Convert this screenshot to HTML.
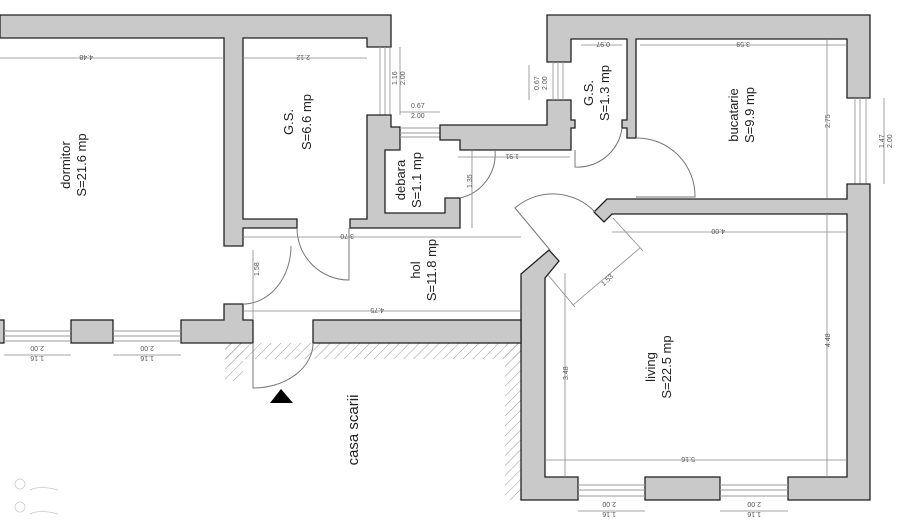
<!DOCTYPE html>
<html><head><meta charset="utf-8"><style>
html,body{margin:0;padding:0;background:#fff;width:900px;height:528px;overflow:hidden}
svg{display:block;font-family:"Liberation Sans",sans-serif}
.w{fill:#c9c9c9;stroke:#222;stroke-width:1.3}
.d{stroke:#888;stroke-width:0.8;fill:none}
.a{stroke:#777;stroke-width:1;fill:none}
.h{stroke:#999;stroke-width:0.9}
.t{font-size:13px;fill:#222}
.s{font-size:7px;fill:#555}
</style></head><body>
<svg width="900" height="528" viewBox="0 0 900 528">
<defs><pattern id="hat" width="7" height="7" patternUnits="userSpaceOnUse" patternTransform="rotate(45)"><line x1="0" y1="0" x2="0" y2="7" stroke="#999" stroke-width="1"/></pattern></defs>
<rect x="225" y="343" width="296" height="16" fill="url(#hat)"/>
<rect x="225" y="343" width="18" height="38" fill="url(#hat)"/>
<rect x="505" y="343" width="16" height="157" fill="url(#hat)"/>
<path class="w" d="M0 15 H391 V47 H367 V38 H243 V219 H297 V228 H243 V246 H224 V38 H0 Z"/>
<line class="h" x1="380" y1="47" x2="380" y2="115"/><line class="h" x1="385" y1="47" x2="385" y2="115"/><line class="h" x1="390" y1="47" x2="390" y2="115"/>
<path class="w" d="M367 115 H391 V127 H400 V150 H385 V213 H445 V198 H460 V228 H350 V219 H367 Z"/>
<line class="h" x1="400" y1="128" x2="440" y2="128"/><line class="h" x1="400" y1="133" x2="440" y2="133"/><line class="h" x1="400" y1="137" x2="440" y2="137"/>
<path class="w" d="M440 125 H547 V100 H571 V120 H575 V128 H571 V150 H460 V140 H440 Z"/>
<path class="w" d="M547 15 H870 V98 H847 V39 H636 V138 H627 V128 H622 V120 H627 V39 H571 V62 H547 Z"/>
<line class="h" x1="553" y1="62" x2="553" y2="100"/><line class="h" x1="558" y1="62" x2="558" y2="100"/><line class="h" x1="563" y1="62" x2="563" y2="100"/>
<line class="h" x1="855" y1="98" x2="855" y2="184"/><line class="h" x1="860" y1="98" x2="860" y2="184"/><line class="h" x1="866" y1="98" x2="866" y2="184"/>
<path class="w" d="M847 184 H870 V500 H788 V477 H847 V214 H612 L604 222 L594 212 L607 199 H847 Z"/>
<path class="w" d="M521 274 L549 250 L559 261 L545 278 V477 H578 V500 H521 Z"/>
<rect class="w" x="645" y="477" width="75" height="23"/>
<line class="h" x1="578" y1="485" x2="645" y2="485"/><line class="h" x1="578" y1="490" x2="645" y2="490"/><line class="h" x1="578" y1="496" x2="645" y2="496"/>
<line class="h" x1="720" y1="485" x2="788" y2="485"/><line class="h" x1="720" y1="490" x2="788" y2="490"/><line class="h" x1="720" y1="496" x2="788" y2="496"/>
<rect class="w" x="313" y="320" width="208" height="23"/>
<path class="w" d="M181 320 H224 V304 H243 V320 H253 V343 H181 Z"/>
<rect class="w" x="71" y="320" width="42" height="23"/>
<rect class="w" x="-2" y="320" width="6" height="23"/>
<line class="h" x1="4" y1="331" x2="71" y2="331"/><line class="h" x1="4" y1="336" x2="71" y2="336"/><line class="h" x1="4" y1="341" x2="71" y2="341"/>
<line class="h" x1="113" y1="331" x2="181" y2="331"/><line class="h" x1="113" y1="336" x2="181" y2="336"/><line class="h" x1="113" y1="341" x2="181" y2="341"/>
<path class="a" d="M253 343 V388 A60 45 0 0 0 313 343"/>
<path class="a" d="M243 304 A48 58 0 0 0 291 246"/>
<path class="a" d="M297 228 A52 52 0 0 0 349 280 V228"/>
<path class="a" d="M460 198 A45 45 0 0 0 495 150"/>
<path class="a" d="M575 150 V167 A45 45 0 0 0 622 128"/>
<path class="a" d="M636 138 A58 58 0 0 1 695 197 H636"/>
<path class="a" d="M550 250 L515 208 A58 58 0 0 1 595 212"/>
<polygon points="270,403 293,403 281,389" fill="#000"/>
<g class="d">
<line x1="0" y1="58" x2="224" y2="58"/><line x1="243" y1="58" x2="367" y2="58"/>
<line x1="400" y1="47" x2="400" y2="115"/><line x1="400" y1="112" x2="440" y2="112"/>
<line x1="581" y1="45" x2="622" y2="45"/><line x1="640" y1="45" x2="847" y2="45"/>
<line x1="827" y1="39" x2="827" y2="198"/><line x1="884" y1="98" x2="884" y2="184"/>
<line x1="458" y1="157" x2="570" y2="157"/><line x1="472" y1="150" x2="472" y2="228"/>
<line x1="243" y1="237" x2="521" y2="237"/><line x1="253" y1="250" x2="253" y2="320"/>
<line x1="243" y1="311" x2="521" y2="311"/>
<line x1="612" y1="232" x2="847" y2="232"/><line x1="565" y1="273" x2="565" y2="477"/>
<line x1="827" y1="214" x2="827" y2="477"/><line x1="545" y1="460" x2="847" y2="460"/>
<line x1="573" y1="305" x2="640" y2="248"/><line x1="613" y1="218" x2="643" y2="251"/><line x1="548" y1="275" x2="575" y2="307"/>
<line x1="4" y1="355" x2="71" y2="355"/><line x1="113" y1="355" x2="181" y2="355"/>
<line x1="578" y1="511" x2="645" y2="511"/><line x1="720" y1="511" x2="788" y2="511"/>
<line x1="529" y1="65" x2="529" y2="100"/>
</g>
<g class="s">
<text x="93" y="61" transform="rotate(180 93 58)">4.48</text>
<text x="300" y="61" transform="rotate(180 305 58)">2.12</text>
<text x="397" y="85" transform="rotate(-90 397 85)">1.16</text><text x="405" y="85" transform="rotate(-90 405 85)">2.00</text>
<text x="411" y="108">0.67</text><text x="411" y="118">2.00</text>
<text x="590" y="48" transform="rotate(180 600 45)">0.97</text>
<text x="730" y="48" transform="rotate(180 740 45)">3.59</text>
<text x="820" y="126" transform="rotate(-90 826 122)">2.75</text>
<text x="878" y="150" transform="rotate(-90 880 146)">1.47</text><text x="886" y="150" transform="rotate(-90 888 146)">2.00</text>
<text x="537" y="92" transform="rotate(-90 537 90)">0.67</text><text x="545" y="92" transform="rotate(-90 545 90)">2.00</text>
<text x="505" y="160" transform="rotate(180 512 157)">1.91</text>
<text x="466" y="186" transform="rotate(-90 470 184)">1.35</text>
<text x="342" y="240" transform="rotate(180 348 237)">3.70</text>
<text x="253" y="274" transform="rotate(-90 257 272)">1.58</text>
<text x="372" y="314" transform="rotate(180 378 311)">4.75</text>
<text x="715" y="235" transform="rotate(180 720 232)">4.00</text>
<text x="600" y="283" transform="rotate(-45 606 280)">1.53</text>
<text x="562" y="378" transform="rotate(-90 566 376)">3.48</text>
<text x="824" y="345" transform="rotate(-90 828 343)">4.48</text>
<text x="685" y="463" transform="rotate(180 690 460)">5.16</text>
<text x="28" y="352" transform="rotate(180 36 349)">2.00</text><text x="28" y="362" transform="rotate(180 36 359)">1.16</text>
<text x="138" y="352" transform="rotate(180 146 349)">2.00</text><text x="138" y="362" transform="rotate(180 146 359)">1.16</text>
<text x="600" y="508" transform="rotate(180 608 505)">2.00</text><text x="600" y="518" transform="rotate(180 608 515)">1.16</text>
<text x="745" y="508" transform="rotate(180 753 505)">2.00</text><text x="745" y="518" transform="rotate(180 753 515)">1.16</text>
</g>
<g class="t">
<text transform="translate(70,165) rotate(-90)" text-anchor="middle">dormitor</text>
<text transform="translate(86,165) rotate(-90)" text-anchor="middle">S=21.6 mp</text>
<text transform="translate(293,122) rotate(-90)" text-anchor="middle">G.S.</text>
<text transform="translate(311,122) rotate(-90)" text-anchor="middle">S=6.6 mp</text>
<text transform="translate(405,180) rotate(-90)" text-anchor="middle">debara</text>
<text transform="translate(421,180) rotate(-90)" text-anchor="middle">S=1.1 mp</text>
<text transform="translate(420,270) rotate(-90)" text-anchor="middle">hol</text>
<text transform="translate(436,270) rotate(-90)" text-anchor="middle">S=11.8 mp</text>
<text transform="translate(593,93) rotate(-90)" text-anchor="middle">G.S.</text>
<text transform="translate(609,93) rotate(-90)" text-anchor="middle">S=1.3 mp</text>
<text transform="translate(738,115) rotate(-90)" text-anchor="middle">bucatarie</text>
<text transform="translate(754,115) rotate(-90)" text-anchor="middle">S=9.9 mp</text>
<text transform="translate(655,367) rotate(-90)" text-anchor="middle">living</text>
<text transform="translate(671,367) rotate(-90)" text-anchor="middle">S=22.5 mp</text>
<text transform="translate(358,430) rotate(-90)" text-anchor="middle" style="font-size:15px">casa scarii</text>
</g>
<g stroke="#ccc" fill="none" stroke-width="0.8">
<circle cx="20" cy="484" r="5"/><circle cx="20" cy="507" r="5"/>
<path d="M30 490 q10-5 28 0"/><path d="M30 514 q10-5 28 0"/>
</g>
</svg>
</body></html>
